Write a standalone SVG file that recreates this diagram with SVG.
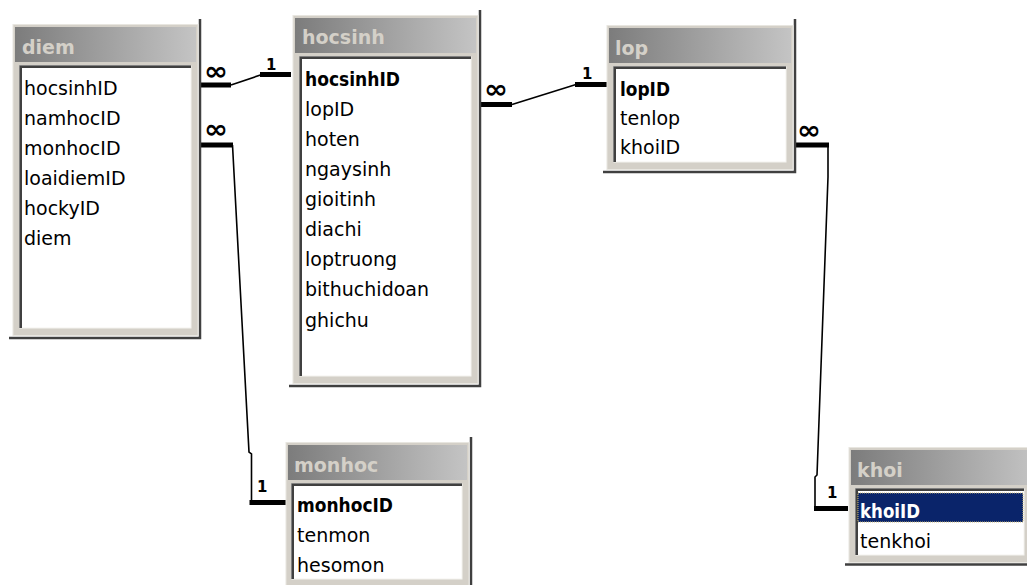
<svg xmlns="http://www.w3.org/2000/svg" width="1027" height="585" viewBox="0 0 1027 585">
<defs>
<linearGradient id="tg" x1="0" y1="0" x2="1" y2="0">
<stop offset="0" stop-color="#7c7c7c"/>
<stop offset="1" stop-color="#c4c4c4"/>
</linearGradient>
</defs>
<style>
.frame{fill:#d4d0c8;stroke:#e8e6e0;stroke-width:1}
.title{fill:url(#tg)}
.ttl{font-family:"DejaVu Sans",sans-serif;font-weight:bold;font-size:19px;fill:#d4d0c8}
.box{fill:#ffffff;stroke:#f4f3ef;stroke-width:1}
.inset{fill:none;stroke:#404040;stroke-width:2}
.inset2{fill:none;stroke:#808080;stroke-width:1}
.shd{fill:none;stroke:#404040;stroke-width:2.5}
.row{font-family:"DejaVu Sans",sans-serif;font-size:19px;fill:#000}
.key{font-family:"DejaVu Sans",sans-serif;font-weight:bold;font-size:19px;fill:#000}
.thick{fill:none;stroke:#000;stroke-width:5}
.thin{fill:none;stroke:#000;stroke-width:1.6}
.inf{font-family:"DejaVu Sans",sans-serif;font-weight:bold;font-size:26px;fill:#000}
.one{font-family:"DejaVu Sans",sans-serif;font-weight:bold;font-size:15px;fill:#000}
</style>
<rect width="1027" height="585" fill="#ffffff"/>

<g id="connectors">
<path class="thick" d="M201,85 H231"/>
<path class="thin" d="M231,85 L262,74.5"/>
<path class="thick" d="M260,74.5 H291"/>
<text class="inf" x="204" y="80" textLength="24" lengthAdjust="spacingAndGlyphs">∞</text>
<text class="one" x="266" y="70">1</text>

<path class="thick" d="M201,145 H233"/>
<path class="thin" d="M232.5,145 L249,452 L251.5,454 V503"/>
<path class="thick" d="M249.5,502.5 H287"/>
<text class="inf" x="204" y="138" textLength="24" lengthAdjust="spacingAndGlyphs">∞</text>
<text class="one" x="257" y="492">1</text>

<path class="thick" d="M481,104.5 H512"/>
<path class="thin" d="M512,104.5 L576,84.5"/>
<path class="thick" d="M575,84.5 H607"/>
<text class="inf" x="484" y="98" textLength="24" lengthAdjust="spacingAndGlyphs">∞</text>
<text class="one" x="582" y="79">1</text>

<path class="thick" d="M796,145 H829"/>
<path class="thin" d="M828,145 V177 L817,475 L815,477 V509"/>
<path class="thick" d="M814,508.5 H848"/>
<text class="inf" x="797" y="139" textLength="24" lengthAdjust="spacingAndGlyphs">∞</text>
<text class="one" x="827" y="498">1</text>
</g>

<g id="diem">
<path class="shd" d="M200,19 V338 H9"/>
<rect class="frame" x="13" y="24.5" width="185" height="311"/>
<rect class="title" x="15" y="27" width="181" height="35"/>
<text class="ttl" x="22" y="54">diem</text>
<rect class="box" x="20" y="66" width="171" height="262"/>
<path class="inset2" d="M19.5,328 V65.5 H191"/>
<path class="inset" d="M21,328 V67 H191"/>
<text class="row" x="24" y="95">hocsinhID</text>
<text class="row" x="24" y="125">namhocID</text>
<text class="row" x="24" y="155">monhocID</text>
<text class="row" x="24" y="185">loaidiemID</text>
<text class="row" x="24" y="215">hockyID</text>
<text class="row" x="24" y="245">diem</text>
</g>

<g id="hocsinh">
<path class="shd" d="M480,10 V386 H289"/>
<rect class="frame" x="293" y="15.5" width="185" height="368"/>
<rect class="title" x="295" y="18" width="181" height="35"/>
<text class="ttl" x="302" y="44">hocsinh</text>
<rect class="box" x="300" y="57" width="171" height="319"/>
<path class="inset2" d="M299.5,376 V56.5 H471"/>
<path class="inset" d="M301,376 V58 H471"/>
<text class="key" x="305" y="86" textLength="95" lengthAdjust="spacingAndGlyphs">hocsinhID</text>
<text class="row" x="305" y="116">lopID</text>
<text class="row" x="305" y="146">hoten</text>
<text class="row" x="305" y="176">ngaysinh</text>
<text class="row" x="305" y="206">gioitinh</text>
<text class="row" x="305" y="236">diachi</text>
<text class="row" x="305" y="266">loptruong</text>
<text class="row" x="305" y="296">bithuchidoan</text>
<text class="row" x="305" y="327">ghichu</text>
</g>

<g id="lop">
<path class="shd" d="M795,19 V172 H603"/>
<rect class="frame" x="607" y="25.5" width="186" height="144"/>
<rect class="title" x="609" y="28" width="182" height="35"/>
<text class="ttl" x="615" y="55">lop</text>
<rect class="box" x="614" y="67" width="172" height="95"/>
<path class="inset2" d="M613.5,162 V66.5 H786"/>
<path class="inset" d="M615,162 V68 H786"/>
<text class="key" x="620" y="96" textLength="50" lengthAdjust="spacingAndGlyphs">lopID</text>
<text class="row" x="620" y="125">tenlop</text>
<text class="row" x="620" y="154">khoiID</text>
</g>

<g id="monhoc">
<path class="shd" d="M471,437 V590"/>
<rect class="frame" x="286" y="442.5" width="183" height="150"/>
<rect class="title" x="288" y="445" width="179" height="35"/>
<text class="ttl" x="294" y="472">monhoc</text>
<rect class="box" x="292" y="484" width="170" height="95"/>
<path class="inset2" d="M291.5,579 V483.5 H462"/>
<path class="inset" d="M293,579 V485 H462"/>
<text class="key" x="297" y="512" textLength="96" lengthAdjust="spacingAndGlyphs">monhocID</text>
<text class="row" x="297" y="542">tenmon</text>
<text class="row" x="297" y="572">hesomon</text>
</g>

<g id="khoi">
<path class="shd" d="M1030,564.5 H845"/>
<rect class="frame" x="849" y="447.5" width="186" height="115"/>
<rect class="title" x="851" y="450" width="186" height="35"/>
<text class="ttl" x="857" y="477">khoi</text>
<rect class="box" x="856" y="489" width="168" height="66"/>
<path class="inset2" d="M855.5,555 V488.5 H1024"/>
<path class="inset" d="M857,555 V490 H1024"/>
<rect x="858" y="493" width="165" height="29" fill="#0a246a" stroke="#c8b878" stroke-width="1" stroke-dasharray="1,1"/>
<text class="key" x="860" y="518" textLength="60" lengthAdjust="spacingAndGlyphs" style="fill:#ffffff">khoiID</text>
<text class="row" x="860" y="548">tenkhoi</text>
</g>
</svg>
